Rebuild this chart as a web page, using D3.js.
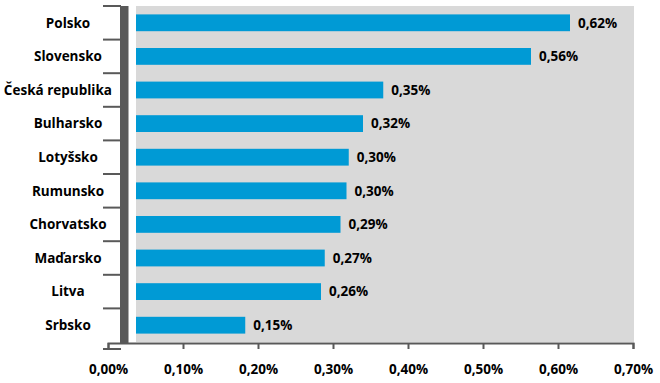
<!DOCTYPE html>
<html><head><meta charset="utf-8">
<script src="https://cdn.jsdelivr.net/npm/d3@7"></script>
<style>
html,body{margin:0;padding:0;background:#fff;}
text{font-family:"Open Sans","DejaVu Sans",sans-serif;font-weight:bold;fill:#000;}
</style></head>
<body>
<svg id="c" width="660" height="383"></svg>
<script>
const categories = ["Polsko","Slovensko","Česká republika","Bulharsko","Lotyšsko","Rumunsko","Chorvatsko","Maďarsko","Litva","Srbsko"];
const barValues = [0.616,0.564,0.367,0.340,0.321,0.318,0.310,0.289,0.284,0.183];
const valueLabels = ["0,62%","0,56%","0,35%","0,32%","0,30%","0,30%","0,29%","0,27%","0,26%","0,15%"];
const xTicks = [0,0.1,0.2,0.3,0.4,0.5,0.6,0.7];
const xTickLabels = ["0,00%","0,10%","0,20%","0,30%","0,40%","0,50%","0,60%","0,70%"];

const svg = d3.select("#c");
const axisCol = "#595959";
const font = "13.5px";
const plot = {left:136, right:634, top:6, bottom:342};
const x = d3.scaleLinear().domain([0,0.7]).range([108,633]);
const y = d3.scaleBand().domain(categories).range([plot.top, plot.bottom]).paddingInner(0.5).paddingOuter(0.25);

svg.append("defs").append("clipPath").attr("id","clip")
  .append("rect").attr("x",plot.left).attr("y",plot.top)
  .attr("width",plot.right-plot.left).attr("height",plot.bottom-plot.top);

svg.append("rect").attr("x",plot.left).attr("y",plot.top)
  .attr("width",plot.right-plot.left).attr("height",plot.bottom-plot.top)
  .attr("fill","#D9D9D9");

svg.append("g").attr("clip-path","url(#clip)")
  .selectAll("rect").data(categories).join("rect")
  .attr("x",x(0)).attr("y",d=>y(d))
  .attr("width",(d,i)=>x(barValues[i])-x(0)).attr("height",y.bandwidth())
  .attr("fill","#009AD5");

// value labels
svg.append("g").selectAll("text").data(categories).join("text")
  .attr("x",(d,i)=>x(barValues[i])+8)
  .attr("y",d=>y(d)+y.bandwidth()/2)
  .attr("dy","0.36em")
  .style("font-size",font)
  .text((d,i)=>valueLabels[i]);

// x axis
const axisY = 343;
const xa = svg.append("g").attr("transform",`translate(0,${axisY})`)
  .call(d3.axisBottom(x).tickValues(xTicks).tickFormat((d,i)=>xTickLabels[i]).tickSizeOuter(0).tickSize(6));
xa.select(".domain").attr("stroke",axisCol).attr("stroke-width",2);
xa.selectAll(".tick line").attr("stroke",axisCol).attr("stroke-width",2);
xa.selectAll(".tick text").attr("y",31).attr("dy",null)
  .style("font-size",font).style("font-family","Open Sans").style("font-weight","bold").attr("fill","#000");

// y axis: thick bar and boundary ticks
svg.append("rect").attr("x",120).attr("y",plot.top).attr("width",8.5).attr("height",axisY-plot.top).attr("fill",axisCol);
const bounds = categories.map(d=>y(d)-y.step()*y.paddingInner()/2);
bounds[0] = plot.top;
bounds.push(axisY+6);
svg.append("g").selectAll("line").data(bounds).join("line")
  .attr("x1",103).attr("x2",121).attr("y1",d=>d).attr("y2",d=>d)
  .attr("stroke",axisCol).attr("stroke-width",2);

// category labels
const cl = svg.append("g").selectAll("text").data(categories).join("text")
  .attr("y",d=>y(d)+y.bandwidth()/2).attr("dy","0.36em")
  .attr("text-anchor","middle").style("font-size",font)
  .text(d=>d);
cl.attr("x",function(){const w=this.getComputedTextLength();return Math.min(68,112-w/2);});
</script>
</body></html>
